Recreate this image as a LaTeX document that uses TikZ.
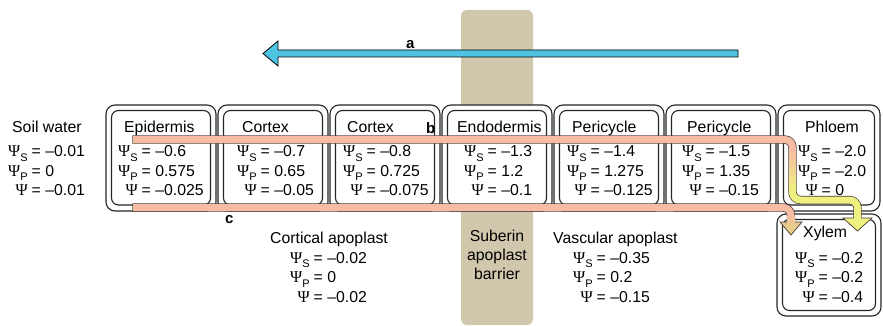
\documentclass[tikz,border=0pt]{standalone}
\usepackage{fontspec}
\setmainfont{Liberation Sans}
\newfontfamily\psif{Liberation Serif}
\definecolor{barrierc}{HTML}{D1C7AC}
\definecolor{bluea}{HTML}{4EC4E2}
\definecolor{pinkb}{HTML}{F6BDA4}
\definecolor{yellowb}{HTML}{EEF080}
\definecolor{tanc}{HTML}{E2D184}
\definecolor{wall}{HTML}{262626}
\definecolor{bandline}{HTML}{4A3A34}
\newcommand\PsiS{{\psif\fontsize{16.5}{19.5}\selectfont Ψ}\raisebox{-4.5pt}{\fontsize{11}{11}\selectfont S}}
\newcommand\PsiP{{\psif\fontsize{16.5}{19.5}\selectfont Ψ}\raisebox{-4.5pt}{\fontsize{11}{11}\selectfont P}}
\newcommand\PsiW{{\psif\fontsize{16.5}{19.5}\selectfont Ψ}}
\newcommand\vals[3]{\begin{tabular}[t]{@{}r@{\hspace{4pt}}l@{}}\PsiS&= #1\\\PsiP&= #2\\\PsiW&= #3\end{tabular}}
\begin{document}
\begin{tikzpicture}[x=1pt,y=-1pt,
  font=\fontsize{15.8}{19.5}\selectfont,
  txt/.style={anchor=base west, inner sep=0pt},
  ctxt/.style={anchor=base, inner sep=0pt},
  lab/.style={anchor=base west, inner sep=0pt, font=\fontsize{15}{18}\selectfont\bfseries},
  outerwall/.style={draw=wall, line width=1.1pt, fill=white, rounded corners=9pt},
  innerwall/.style={draw=wall, line width=1.1pt, rounded corners=7pt},
  bandout/.style={line width=8.4pt, draw=bandline, rounded corners=8pt},
  bandin/.style={line width=7pt, rounded corners=8pt}]
\useasboundingbox (0,0) rectangle (883,326);
% suberin barrier
\fill[barrierc, rounded corners=6pt] (461,10) rectangle (533,325);
% arrow a
\coordinate (aStart) at (738,53.5);
\coordinate (aEnd) at (263,53.5);
\draw[fill=bluea, draw=black, line width=0.8pt, line join=miter]
  (738,50) -- (278,50) -- (278,41) -- (aEnd) -- (278,66) -- (278,57) -- (738,57) -- cycle;
\node[lab] (la) at (406,49) {a};
% cells
\foreach \xa/\xb in {106/216, 218/328, 330/440, 442/552, 554/664, 666/776, 778/880}{
  \draw[outerwall] (\xa,105) rectangle (\xb,211);
  \draw[innerwall] (\xa+5.5,110.5) rectangle (\xb-5.5,205);
}
\draw[outerwall] (777,214) rectangle (881,316);
\draw[innerwall] (782.5,219.5) rectangle (875.5,310.5);
% band b (symplast)
\coordinate (bS) at (133,139.5);
\draw[bandout, shorten <=-0.7pt] (bS) -- (792.5,139.5) -- (792.5,200) -- (857.5,200) -- (857.5,219);
\draw[fill=yellowb, draw=bandline, line width=0.7pt, line join=miter]
  (843,218) -- (872,218) -- (857.5,231) -- cycle;
\draw[bandin, draw=pinkb] (bS) -- (792.5,139.5) -- (792.5,150.1);
\shade[top color=pinkb, bottom color=yellowb] (789,150) rectangle (796,190);
\draw[bandin, draw=yellowb] (792.5,189.9) -- (792.5,200) -- (857.5,200) -- (857.5,219);
% band c (apoplast)
\coordinate (cS) at (133,207.5);
\draw[bandout, shorten <=-0.7pt] (cS) -- (791,207.5) -- (791,223);
\path[draw=bandline, line width=0.7pt, line join=miter, top color=pinkb!45!tanc, bottom color=tanc]
  (780,222) -- (802,222) -- (791,235) -- cycle;
\draw[bandin, draw=pinkb] (cS) -- (791,207.5) -- (791,215.6);
\shade[top color=pinkb, bottom color=pinkb!45!tanc] (787.5,215.5) rectangle (794.5,223);
\node[lab] (lb) at (426,133) {b};
\node[lab] (lc) at (225,223) {c};
% titles
\node[txt] (tSoil) at (12,132) {Soil water};
\node[txt] (tEpi) at (124,132) {Epidermis};
\node[txt] (tCo1) at (242,132) {Cortex};
\node[txt] (tCo2) at (347,132) {Cortex};
\node[txt] (tEnd) at (457,132) {Endodermis};
\node[txt] (tPe1) at (572,132) {Pericycle};
\node[txt] (tPe2) at (687,132) {Pericycle};
\node[txt] (tPhl) at (805,132) {Phloem};
\node[txt] (tXyl) at (803,237) {Xylem};
\node[txt] (tCor) at (270,243) {Cortical apoplast};
\node[txt] (tVas) at (553,243) {Vascular apoplast};
\node[ctxt] (tSub1) at (497,241) {Suberin};
\node[ctxt] (tSub2) at (497,260) {apoplast};
\node[ctxt] (tSub3) at (497,279) {barrier};
% values
\node[txt] (vSoil) at (8,157) {\vals{–0.01}{0}{–0.01}};
\node[txt] (vEpi) at (118,157) {\vals{–0.6}{0.575}{–0.025}};
\node[txt] (vCo1) at (237,157) {\vals{–0.7}{0.65}{–0.05}};
\node[txt] (vCo2) at (343,157) {\vals{–0.8}{0.725}{–0.075}};
\node[txt] (vEnd) at (464,157) {\vals{–1.3}{1.2}{–0.1}};
\node[txt] (vPe1) at (567,157) {\vals{–1.4}{1.275}{–0.125}};
\node[txt] (vPe2) at (682,157) {\vals{–1.5}{1.35}{–0.15}};
\node[txt] (vPhl) at (798,157) {\vals{–2.0}{–2.0}{0}};
\node[txt] (vXyl) at (795,263) {\vals{–0.2}{–0.2}{–0.4}};
\node[txt] (vCor) at (290,263) {\vals{–0.02}{0}{–0.02}};
\node[txt] (vVas) at (573,263) {\vals{–0.35}{0.2}{–0.15}};
\end{tikzpicture}
\end{document}
